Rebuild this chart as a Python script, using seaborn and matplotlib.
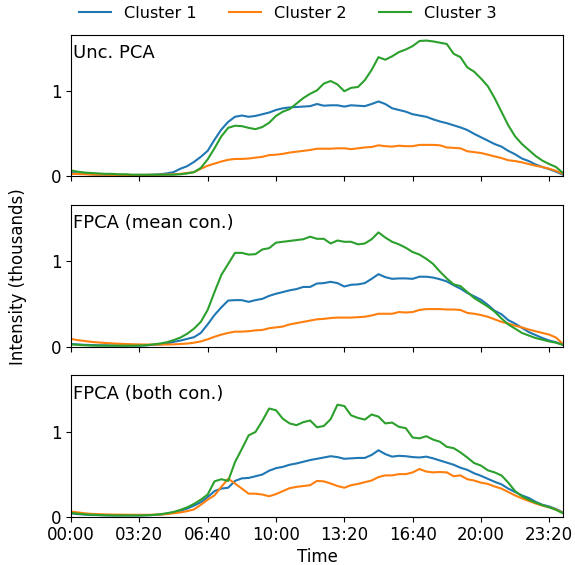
import numpy as np
import pandas as pd
import matplotlib
matplotlib.use("Agg")
import matplotlib.pyplot as plt
import seaborn as sns

# ---------------- data ----------------
clusters = ["Cluster 1", "Cluster 2", "Cluster 3"]
panel_titles = ["Unc. PCA", "FPCA (mean con.)", "FPCA (both con.)"]
tick_labels = ["00:00", "03:20", "06:40", "10:00", "13:20", "16:40", "20:00", "23:20"]
minutes = np.arange(0, 1441, 20)  # sampling grid: every 20 minutes over a day

unc_c1 = [0.04, 0.035, 0.03, 0.025, 0.02, 0.02, 0.015, 0.015, 0.015, 0.015,
          0.015, 0.015, 0.02, 0.025, 0.035, 0.05, 0.09, 0.12, 0.17, 0.23,
          0.30, 0.43, 0.55, 0.64, 0.70, 0.715, 0.70, 0.71, 0.73, 0.75,
          0.78, 0.80, 0.81, 0.815, 0.82, 0.825, 0.85, 0.83, 0.835, 0.835,
          0.82, 0.835, 0.83, 0.825, 0.85, 0.88, 0.85, 0.80, 0.78, 0.76,
          0.73, 0.715, 0.70, 0.67, 0.645, 0.625, 0.60, 0.575, 0.545, 0.50,
          0.46, 0.42, 0.38, 0.35, 0.30, 0.26, 0.21, 0.18, 0.14, 0.11,
          0.085, 0.055, 0.02]
unc_c2 = [0.03, 0.028, 0.025, 0.022, 0.02, 0.02, 0.018, 0.018, 0.018, 0.017,
          0.017, 0.018, 0.018, 0.02, 0.022, 0.025, 0.03, 0.04, 0.05, 0.09,
          0.125, 0.15, 0.175, 0.195, 0.205, 0.205, 0.21, 0.22, 0.23, 0.25,
          0.255, 0.265, 0.28, 0.29, 0.30, 0.31, 0.325, 0.325, 0.325, 0.33,
          0.33, 0.32, 0.33, 0.34, 0.345, 0.365, 0.355, 0.35, 0.36, 0.355,
          0.355, 0.37, 0.37, 0.37, 0.365, 0.34, 0.335, 0.33, 0.295, 0.285,
          0.275, 0.255, 0.235, 0.215, 0.19, 0.18, 0.165, 0.145, 0.125, 0.11,
          0.09, 0.065, 0.03]
unc_c3 = [0.07, 0.055, 0.045, 0.04, 0.035, 0.03, 0.03, 0.025, 0.025, 0.02,
          0.02, 0.02, 0.02, 0.02, 0.02, 0.02, 0.025, 0.035, 0.05, 0.10,
          0.20, 0.33, 0.47, 0.57, 0.595, 0.59, 0.57, 0.555, 0.58, 0.63,
          0.71, 0.76, 0.79, 0.855, 0.92, 0.97, 1.01, 1.09, 1.12, 1.08,
          1.00, 1.04, 1.05, 1.13, 1.25, 1.40, 1.37, 1.41, 1.46, 1.49,
          1.53, 1.59, 1.595, 1.585, 1.57, 1.555, 1.44, 1.40, 1.28, 1.23,
          1.15, 1.06, 0.92, 0.76, 0.60, 0.47, 0.38, 0.31, 0.24, 0.185,
          0.145, 0.11, 0.04]

mean_c1 = [0.03, 0.025, 0.02, 0.018, 0.015, 0.015, 0.012, 0.012, 0.012, 0.012,
           0.012, 0.015, 0.02, 0.025, 0.035, 0.055, 0.07, 0.09, 0.11, 0.16,
           0.26, 0.37, 0.46, 0.54, 0.545, 0.545, 0.525, 0.545, 0.56, 0.595,
           0.62, 0.64, 0.66, 0.675, 0.70, 0.70, 0.74, 0.745, 0.76, 0.745,
           0.705, 0.725, 0.73, 0.745, 0.795, 0.85, 0.815, 0.795, 0.80, 0.80,
           0.795, 0.82, 0.82, 0.81, 0.79, 0.765, 0.72, 0.68, 0.63, 0.59,
           0.55, 0.49, 0.42, 0.38, 0.31, 0.27, 0.22, 0.17, 0.135, 0.10,
           0.07, 0.05, 0.02]
mean_c2 = [0.09, 0.075, 0.065, 0.055, 0.048, 0.042, 0.037, 0.033, 0.03, 0.027,
           0.025, 0.024, 0.023, 0.023, 0.024, 0.026, 0.03, 0.035, 0.045, 0.06,
           0.085, 0.115, 0.14, 0.16, 0.175, 0.175, 0.18, 0.19, 0.195, 0.215,
           0.225, 0.235, 0.26, 0.275, 0.29, 0.305, 0.32, 0.325, 0.335, 0.34,
           0.34, 0.34, 0.345, 0.35, 0.365, 0.385, 0.385, 0.385, 0.405, 0.40,
           0.405, 0.43, 0.44, 0.44, 0.44, 0.435, 0.435, 0.43, 0.395, 0.385,
           0.37, 0.35, 0.32, 0.29, 0.27, 0.245, 0.225, 0.20, 0.18, 0.16,
           0.14, 0.105, 0.03]
mean_c3 = [0.025, 0.02, 0.015, 0.012, 0.01, 0.01, 0.01, 0.01, 0.01, 0.01,
           0.012, 0.015, 0.025, 0.035, 0.05, 0.075, 0.105, 0.15, 0.21, 0.29,
           0.43, 0.64, 0.84, 0.97, 1.10, 1.10, 1.08, 1.085, 1.14, 1.155,
           1.22, 1.23, 1.24, 1.25, 1.26, 1.29, 1.265, 1.265, 1.21, 1.245,
           1.23, 1.23, 1.20, 1.21, 1.26, 1.34, 1.28, 1.23, 1.20, 1.16,
           1.11, 1.08, 1.03, 0.97, 0.88, 0.80, 0.73, 0.71, 0.64, 0.57,
           0.52, 0.47, 0.41, 0.33, 0.26, 0.21, 0.16, 0.13, 0.10, 0.08,
           0.06, 0.045, 0.02]

both_c1 = [0.04, 0.03, 0.025, 0.02, 0.018, 0.016, 0.015, 0.015, 0.015, 0.015,
           0.015, 0.017, 0.02, 0.025, 0.035, 0.05, 0.07, 0.095, 0.13, 0.17,
           0.23, 0.30, 0.33, 0.34, 0.42, 0.45, 0.455, 0.475, 0.495, 0.54,
           0.57, 0.585, 0.61, 0.625, 0.645, 0.665, 0.68, 0.695, 0.71, 0.70,
           0.68, 0.685, 0.69, 0.69, 0.725, 0.78, 0.735, 0.705, 0.715, 0.71,
           0.70, 0.695, 0.705, 0.685, 0.66, 0.635, 0.61, 0.575, 0.55, 0.51,
           0.48, 0.445, 0.41, 0.38, 0.33, 0.29, 0.25, 0.22, 0.175, 0.14,
           0.12, 0.09, 0.05]
both_c2 = [0.06, 0.05, 0.04, 0.033, 0.03, 0.027, 0.025, 0.024, 0.023, 0.022,
           0.022, 0.022, 0.023, 0.025, 0.03, 0.04, 0.05, 0.065, 0.085, 0.14,
           0.20, 0.25, 0.35, 0.445, 0.39, 0.33, 0.27, 0.27, 0.26, 0.24,
           0.265, 0.30, 0.335, 0.35, 0.36, 0.37, 0.42, 0.415, 0.39, 0.36,
           0.34, 0.37, 0.385, 0.405, 0.425, 0.465, 0.485, 0.485, 0.50, 0.50,
           0.52, 0.56, 0.53, 0.52, 0.525, 0.52, 0.475, 0.485, 0.44, 0.425,
           0.40, 0.385, 0.355, 0.33, 0.29, 0.25, 0.215, 0.185, 0.155, 0.13,
           0.11, 0.085, 0.045]
both_c3 = [0.045, 0.035, 0.028, 0.023, 0.02, 0.017, 0.015, 0.015, 0.015, 0.015,
           0.015, 0.017, 0.02, 0.028, 0.04, 0.055, 0.08, 0.11, 0.15, 0.20,
           0.26, 0.415, 0.44, 0.42, 0.64, 0.795, 0.955, 0.995, 1.125, 1.27,
           1.25, 1.15, 1.095, 1.075, 1.11, 1.13, 1.05, 1.065, 1.145, 1.315,
           1.30, 1.19, 1.16, 1.14, 1.20, 1.175, 1.095, 1.105, 1.055, 1.04,
           0.93, 0.92, 0.945, 0.905, 0.88, 0.82, 0.805, 0.755, 0.695, 0.63,
           0.60, 0.545, 0.52, 0.485, 0.40, 0.30, 0.24, 0.20, 0.165, 0.135,
           0.11, 0.08, 0.04]

panels = [
    (unc_c1, unc_c2, unc_c3),
    (mean_c1, mean_c2, mean_c3),
    (both_c1, both_c2, both_c3),
]

# ---------------- plot ----------------
plt.rcParams["font.size"] = 12
plt.rcParams["font.family"] = ["DejaVu Sans"]

palette = ["#1f77b4", "#ff7f0e", "#2ca02c"]

fig, axes = plt.subplots(3, 1, figsize=(5.75, 5.65), dpi=100, sharex=True, sharey=True)
fig.subplots_adjust(left=0.1235, right=0.979, top=0.938, bottom=0.0855, hspace=0.2035)

tick_pos = [int(s[:2]) * 60 + int(s[3:]) for s in tick_labels]

for k, (ax, series, title) in enumerate(zip(axes, panels, panel_titles)):
    frames = []
    for name, vals in zip(clusters, series):
        frames.append(pd.DataFrame({"minute": minutes, "value": vals, "cluster": name}))
    df = pd.concat(frames, ignore_index=True)
    sns.lineplot(data=df, x="minute", y="value", hue="cluster", palette=palette,
                 hue_order=clusters, ax=ax, legend=(k == 0), linewidth=1.5,
                 errorbar=None)
    ax.set_xlabel("")
    ax.set_ylabel("")
    ax.text(0.005, 0.935, title, transform=ax.transAxes, fontsize=13,
            ha="left", va="top")

handles, labels = axes[0].get_legend_handles_labels()
axes[0].get_legend().remove()
fig.legend(handles, labels, loc="upper center", ncol=3, frameon=False,
           bbox_to_anchor=(0.5, 1.015), fontsize=11.6)

axes[0].set_xlim(0, 1440)
axes[0].set_ylim(0, 1.66)
axes[0].set_yticks([0, 1])
axes[-1].set_xticks(tick_pos)
axes[-1].set_xticklabels(tick_labels)
axes[-1].set_xlabel("Time", labelpad=2.5)

fig.text(0.031, 0.5103, "Intensity (thousands)", rotation=90,
         ha="center", va="center", fontsize=12)

fig.savefig("out.png", dpi=100)
